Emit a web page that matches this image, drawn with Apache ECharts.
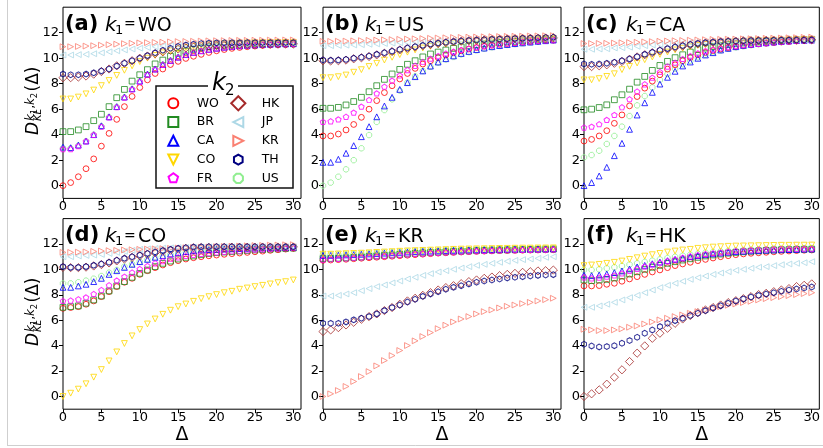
<!DOCTYPE html>
<html><head><meta charset="utf-8">
<script src="https://cdn.jsdelivr.net/npm/echarts@6/dist/echarts.min.js"></script>
<style>html,body{margin:0;padding:0;background:#fff}#c{width:823px;height:448px}</style>
</head><body><div id="c"></div>
<script>
// ---------------- data ----------------
const DELTA = [0,1,2,3,4,5,6,7,8,9,10,11,12,13,14,15,16,17,18,19,20,21,22,23,24,25,26,27,28,29,30];
const K2 = ['WO','BR','CA','CO','FR','HK','JP','KR','TH','US'];
const PANEL_LETTERS = ['(a)','(b)','(c)','(d)','(e)','(f)'];
const PANEL_K1 = ['WO','US','CA','CO','KR','HK'];
const X_TICKS = [0,5,10,15,20,25,30];
const Y_TICKS = [0,2,4,6,8,10,12];

// (a) k1 = WO
const a_WO = [0.00,0.24,0.70,1.33,2.10,3.10,4.10,5.20,6.20,7.00,7.70,8.30,8.80,9.15,9.50,9.75,9.98,10.15,10.30,10.45,10.58,10.68,10.77,10.84,10.90,10.95,11.00,11.03,11.06,11.08,11.10];
const a_BR = [4.24,4.24,4.37,4.63,5.10,5.60,6.20,6.90,7.55,8.20,8.70,9.10,9.55,9.85,10.15,10.38,10.55,10.70,10.82,10.90,10.97,11.02,11.06,11.09,11.11,11.13,11.14,11.15,11.16,11.16,11.17];
const a_CA = [3.02,2.98,3.18,3.50,4.00,4.70,5.40,6.20,6.95,7.60,8.20,8.75,9.15,9.50,9.82,10.08,10.28,10.45,10.58,10.69,10.78,10.86,10.92,10.97,11.01,11.04,11.07,11.09,11.11,11.12,11.13];
const a_CO = [6.80,6.80,6.95,7.20,7.50,7.85,8.25,8.65,9.05,9.40,9.73,10.00,10.22,10.42,10.58,10.72,10.83,10.92,10.99,11.05,11.10,11.13,11.16,11.18,11.20,11.21,11.22,11.23,11.24,11.24,11.25];
const a_FR = [2.87,2.87,3.10,3.48,3.98,4.62,5.35,6.15,6.90,7.55,8.15,8.70,9.12,9.48,9.80,10.06,10.27,10.44,10.57,10.68,10.77,10.85,10.91,10.96,11.00,11.04,11.06,11.08,11.10,11.11,11.12];
const a_HK = [8.47,8.47,8.52,8.60,8.75,8.95,9.15,9.40,9.60,9.80,10.00,10.17,10.35,10.50,10.62,10.72,10.80,10.87,10.92,10.96,11.00,11.02,11.04,11.06,11.07,11.08,11.09,11.10,11.10,11.11,11.11];
const a_JP = [10.25,10.25,10.28,10.30,10.35,10.42,10.50,10.58,10.65,10.72,10.78,10.84,10.90,10.95,11.00,11.04,11.07,11.10,11.12,11.14,11.15,11.16,11.17,11.18,11.18,11.19,11.19,11.20,11.20,11.20,11.20];
const a_KR = [10.90,10.90,10.92,10.95,10.98,11.02,11.06,11.10,11.14,11.17,11.20,11.22,11.24,11.26,11.28,11.30,11.31,11.33,11.34,11.36,11.37,11.38,11.39,11.40,11.40,11.41,11.41,11.42,11.42,11.43,11.43];
const a_TH = [8.75,8.70,8.70,8.75,8.85,9.00,9.15,9.38,9.60,9.80,10.00,10.20,10.42,10.62,10.78,10.92,11.03,11.10,11.15,11.18,11.20,11.21,11.22,11.22,11.23,11.23,11.23,11.23,11.23,11.23,11.23];
const a_US = [2.95,2.93,3.14,3.49,3.99,4.66,5.38,6.18,6.93,7.58,8.18,8.72,9.14,9.49,9.81,10.07,10.28,10.45,10.58,10.69,10.78,10.86,10.92,10.97,11.01,11.04,11.07,11.09,11.11,11.12,11.13];

// (b) k1 = US
const b_WO = [3.90,3.90,4.05,4.37,4.80,5.36,6.00,6.67,7.30,7.84,8.37,8.80,9.20,9.54,9.80,10.04,10.25,10.43,10.58,10.72,10.84,10.94,11.02,11.09,11.15,11.20,11.25,11.30,11.34,11.38,11.42];
const b_BR = [6.07,6.07,6.14,6.33,6.60,6.93,7.37,7.84,8.34,8.76,9.12,9.52,9.80,10.10,10.33,10.48,10.64,10.77,10.88,10.97,11.05,11.12,11.18,11.23,11.28,11.32,11.36,11.40,11.43,11.46,11.48];
const b_CA = [1.83,1.83,2.07,2.54,3.14,3.84,4.63,5.40,6.25,6.93,7.55,8.08,8.55,9.00,9.38,9.70,9.96,10.18,10.37,10.53,10.67,10.79,10.90,10.99,11.07,11.14,11.20,11.26,11.32,11.37,11.42];
const b_CO = [8.47,8.47,8.55,8.68,8.90,9.10,9.35,9.60,9.85,10.07,10.28,10.47,10.65,10.80,10.93,11.05,11.13,11.20,11.27,11.32,11.36,11.40,11.43,11.45,11.47,11.49,11.50,11.51,11.52,11.53,11.53];
const b_FR = [5.00,5.05,5.20,5.40,5.73,6.20,6.72,7.24,7.76,8.24,8.65,9.07,9.40,9.70,9.96,10.17,10.36,10.52,10.65,10.76,10.86,10.95,11.03,11.10,11.16,11.21,11.26,11.31,11.35,11.39,11.42];
const b_HK = [9.80,9.78,9.80,9.85,9.95,10.03,10.13,10.26,10.39,10.52,10.65,10.77,10.88,10.98,11.07,11.15,11.22,11.28,11.33,11.37,11.40,11.43,11.46,11.48,11.50,11.52,11.54,11.55,11.57,11.58,11.60];
const b_JP = [10.98,10.98,11.00,11.02,11.04,11.06,11.09,11.12,11.15,11.18,11.21,11.24,11.27,11.30,11.33,11.35,11.37,11.39,11.41,11.43,11.44,11.45,11.46,11.47,11.48,11.49,11.50,11.51,11.52,11.53,11.54];
const b_KR = [11.32,11.32,11.33,11.34,11.36,11.38,11.40,11.42,11.44,11.46,11.48,11.50,11.52,11.54,11.56,11.58,11.60,11.62,11.63,11.65,11.66,11.68,11.69,11.70,11.71,11.72,11.73,11.74,11.75,11.76,11.77];
const b_TH = [9.86,9.83,9.85,9.90,10.00,10.07,10.17,10.30,10.43,10.55,10.68,10.80,10.90,11.00,11.10,11.18,11.25,11.30,11.35,11.39,11.42,11.45,11.48,11.50,11.52,11.54,11.56,11.58,11.60,11.62,11.64];
const b_US = [0.00,0.24,0.70,1.28,2.00,2.93,3.97,5.00,5.93,6.77,7.45,8.08,8.58,9.00,9.33,9.65,9.90,10.10,10.30,10.47,10.62,10.75,10.86,10.96,11.04,11.11,11.18,11.25,11.31,11.37,11.42];

// (c) k1 = CA
const c_WO = [3.50,3.63,3.90,4.31,4.89,5.55,6.26,6.99,7.65,8.20,8.70,9.14,9.48,9.80,10.06,10.27,10.45,10.60,10.72,10.83,10.92,11.00,11.07,11.13,11.18,11.23,11.27,11.31,11.35,11.39,11.42];
const c_BR = [5.95,6.00,6.13,6.34,6.74,7.13,7.57,8.12,8.57,9.04,9.43,9.75,10.04,10.27,10.48,10.67,10.80,10.92,11.00,11.07,11.13,11.19,11.24,11.28,11.32,11.35,11.38,11.41,11.44,11.46,11.48];
const c_CA = [0.00,0.24,0.76,1.44,2.35,3.32,4.42,5.54,6.50,7.32,7.97,8.50,8.97,9.39,9.70,9.99,10.25,10.43,10.64,10.77,10.90,11.00,11.08,11.15,11.21,11.27,11.31,11.35,11.38,11.40,11.42];
const c_CO = [8.30,8.30,8.40,8.57,8.78,9.10,9.36,9.62,9.88,10.09,10.30,10.48,10.65,10.78,10.90,11.00,11.08,11.15,11.21,11.26,11.30,11.33,11.36,11.38,11.40,11.41,11.42,11.43,11.44,11.45,11.45];
const c_FR = [4.56,4.63,4.82,5.16,5.55,6.15,6.78,7.38,7.95,8.47,8.92,9.34,9.65,9.94,10.17,10.38,10.56,10.68,10.78,10.87,10.95,11.02,11.08,11.13,11.18,11.23,11.27,11.31,11.35,11.39,11.42];
const c_HK = [9.34,9.34,9.40,9.48,9.60,9.74,9.92,10.10,10.27,10.43,10.58,10.72,10.85,10.95,11.05,11.13,11.19,11.24,11.28,11.31,11.34,11.36,11.38,11.39,11.40,11.41,11.42,11.43,11.43,11.44,11.44];
const c_JP = [10.70,10.70,10.72,10.74,10.80,10.82,10.86,10.93,10.98,11.04,11.08,11.12,11.16,11.20,11.23,11.26,11.28,11.30,11.32,11.34,11.36,11.37,11.38,11.39,11.40,11.41,11.42,11.43,11.44,11.44,11.45];
const c_KR = [11.15,11.15,11.16,11.17,11.19,11.21,11.23,11.25,11.28,11.30,11.33,11.35,11.37,11.39,11.41,11.43,11.45,11.47,11.48,11.49,11.50,11.52,11.53,11.54,11.56,11.57,11.58,11.60,11.61,11.63,11.65];
const c_TH = [9.55,9.52,9.55,9.60,9.68,9.80,9.94,10.12,10.30,10.46,10.62,10.75,10.88,10.98,11.08,11.16,11.22,11.26,11.30,11.33,11.35,11.37,11.38,11.39,11.40,11.41,11.42,11.42,11.43,11.43,11.44];
const c_US = [2.22,2.40,2.74,3.27,3.90,4.63,5.46,6.30,7.03,7.71,8.29,8.76,9.18,9.52,9.80,10.07,10.28,10.46,10.62,10.75,10.85,10.94,11.02,11.09,11.16,11.22,11.27,11.31,11.35,11.39,11.42];

// (d) k1 = CO
const d_WO = [6.94,7.00,7.07,7.26,7.52,7.86,8.25,8.65,8.99,9.30,9.61,9.90,10.14,10.35,10.53,10.69,10.82,10.92,11.00,11.07,11.13,11.19,11.24,11.29,11.34,11.39,11.44,11.50,11.55,11.60,11.65];
const d_BR = [7.02,7.07,7.13,7.34,7.60,7.91,8.31,8.70,9.04,9.38,9.69,9.95,10.22,10.48,10.66,10.82,10.95,11.06,11.16,11.25,11.32,11.37,11.41,11.45,11.49,11.53,11.56,11.59,11.62,11.65,11.68];
const d_CA = [8.59,8.59,8.70,8.83,9.04,9.30,9.61,9.90,10.16,10.40,10.61,10.79,10.95,11.08,11.21,11.32,11.40,11.47,11.53,11.56,11.58,11.60,11.62,11.64,11.66,11.68,11.69,11.70,11.72,11.73,11.74];
const d_CO = [0.00,0.26,0.58,1.00,1.52,2.12,2.80,3.51,4.17,4.77,5.27,5.71,6.10,6.47,6.79,7.07,7.28,7.49,7.70,7.86,8.02,8.17,8.28,8.44,8.54,8.65,8.75,8.86,8.96,9.04,9.17];
const d_FR = [7.52,7.55,7.65,7.80,8.07,8.38,8.75,9.12,9.43,9.75,10.03,10.27,10.48,10.66,10.82,10.95,11.06,11.15,11.22,11.29,11.34,11.39,11.43,11.47,11.51,11.55,11.58,11.61,11.64,11.67,11.70];
const d_HK = [10.16,10.14,10.14,10.18,10.27,10.38,10.51,10.67,10.82,10.95,11.08,11.20,11.31,11.42,11.52,11.60,11.66,11.70,11.72,11.73,11.74,11.74,11.75,11.75,11.75,11.75,11.76,11.76,11.76,11.76,11.76];
const d_JP = [11.00,11.00,11.06,11.10,11.13,11.18,11.26,11.34,11.42,11.50,11.58,11.62,11.65,11.68,11.70,11.72,11.74,11.75,11.76,11.77,11.77,11.78,11.78,11.78,11.79,11.79,11.79,11.79,11.79,11.79,11.79];
const d_KR = [11.34,11.34,11.36,11.38,11.42,11.45,11.48,11.50,11.53,11.55,11.58,11.60,11.62,11.64,11.66,11.69,11.71,11.73,11.75,11.77,11.79,11.81,11.83,11.84,11.86,11.88,11.89,11.91,11.92,11.94,11.95];
const d_TH = [10.22,10.16,10.16,10.22,10.32,10.43,10.56,10.72,10.87,11.00,11.13,11.26,11.37,11.48,11.58,11.66,11.71,11.76,11.78,11.79,11.79,11.79,11.79,11.79,11.79,11.79,11.79,11.79,11.79,11.79,11.79];
const d_US = [8.90,8.90,8.99,9.12,9.27,9.48,9.75,9.96,10.22,10.43,10.61,10.79,10.95,11.08,11.20,11.30,11.38,11.45,11.51,11.55,11.58,11.60,11.62,11.64,11.66,11.68,11.69,11.70,11.72,11.73,11.74];

// (e) k1 = KR
const e_WO = [10.72,10.74,10.77,10.80,10.84,10.88,10.92,10.96,11.00,11.04,11.08,11.12,11.16,11.20,11.24,11.28,11.31,11.34,11.37,11.40,11.42,11.44,11.46,11.48,11.49,11.50,11.51,11.52,11.53,11.54,11.55];
const e_BR = [10.85,10.86,10.88,10.91,10.94,10.98,11.02,11.06,11.10,11.14,11.18,11.22,11.26,11.30,11.33,11.36,11.39,11.42,11.44,11.46,11.48,11.50,11.52,11.53,11.54,11.55,11.56,11.57,11.58,11.59,11.60];
const e_CA = [11.10,11.10,11.12,11.14,11.16,11.19,11.22,11.25,11.28,11.31,11.34,11.37,11.40,11.42,11.44,11.46,11.48,11.50,11.52,11.53,11.54,11.55,11.56,11.57,11.58,11.59,11.59,11.60,11.61,11.61,11.62];
const e_CO = [11.20,11.20,11.22,11.24,11.26,11.28,11.31,11.34,11.37,11.40,11.43,11.46,11.48,11.50,11.52,11.54,11.56,11.58,11.60,11.61,11.62,11.63,11.64,11.65,11.66,11.67,11.68,11.68,11.69,11.69,11.70];
const e_FR = [10.78,10.80,10.83,10.86,10.90,10.94,10.98,11.02,11.06,11.10,11.14,11.18,11.22,11.25,11.28,11.31,11.34,11.37,11.40,11.42,11.44,11.46,11.48,11.50,11.51,11.52,11.53,11.54,11.55,11.56,11.58];
const e_HK = [5.11,5.24,5.42,5.63,5.84,6.08,6.29,6.50,6.76,7.00,7.26,7.52,7.73,7.96,8.17,8.38,8.57,8.72,8.88,9.04,9.17,9.30,9.40,9.51,9.61,9.69,9.77,9.82,9.88,9.90,9.95];
const e_JP = [7.91,7.91,7.96,8.07,8.17,8.33,8.49,8.65,8.78,8.94,9.09,9.25,9.38,9.53,9.67,9.80,9.90,10.01,10.11,10.22,10.32,10.40,10.48,10.56,10.64,10.71,10.77,10.82,10.87,10.95,11.00];
const e_KR = [0.00,0.21,0.47,0.79,1.18,1.57,1.96,2.41,2.83,3.22,3.62,4.01,4.38,4.72,5.03,5.34,5.61,5.87,6.10,6.29,6.50,6.68,6.81,6.97,7.10,7.20,7.31,7.41,7.52,7.62,7.73];
const e_TH = [5.76,5.76,5.76,5.87,6.03,6.16,6.29,6.50,6.76,7.00,7.20,7.44,7.65,7.88,8.07,8.25,8.44,8.59,8.72,8.86,8.99,9.09,9.17,9.25,9.33,9.38,9.43,9.48,9.53,9.56,9.59];
const e_US = [11.15,11.15,11.17,11.19,11.21,11.24,11.27,11.30,11.33,11.36,11.39,11.42,11.44,11.46,11.48,11.50,11.52,11.54,11.55,11.56,11.57,11.58,11.59,11.60,11.61,11.62,11.62,11.63,11.64,11.64,11.65];

// (f) k1 = HK
const f_WO = [8.70,8.70,8.73,8.83,8.91,9.07,9.25,9.43,9.61,9.80,9.96,10.14,10.30,10.43,10.56,10.69,10.79,10.90,11.00,11.08,11.16,11.22,11.27,11.31,11.35,11.39,11.42,11.45,11.48,11.51,11.53];
const f_BR = [9.17,9.12,9.17,9.22,9.33,9.48,9.64,9.82,10.01,10.17,10.32,10.48,10.61,10.74,10.84,10.95,11.06,11.14,11.21,11.28,11.34,11.39,11.43,11.46,11.50,11.53,11.55,11.56,11.58,11.59,11.60];
const f_CA = [9.56,9.51,9.56,9.64,9.75,9.88,10.04,10.20,10.32,10.45,10.58,10.69,10.79,10.90,11.00,11.08,11.16,11.23,11.29,11.35,11.40,11.43,11.46,11.49,11.51,11.53,11.55,11.56,11.57,11.59,11.60];
const f_CO = [10.30,10.35,10.40,10.48,10.56,10.66,10.79,10.92,11.05,11.16,11.26,11.37,11.45,11.53,11.58,11.66,11.71,11.76,11.79,11.82,11.84,11.85,11.86,11.87,11.88,11.89,11.90,11.90,11.91,11.91,11.92];
const f_FR = [9.38,9.30,9.35,9.43,9.53,9.69,9.88,10.04,10.22,10.38,10.53,10.66,10.79,10.92,11.03,11.13,11.21,11.28,11.34,11.40,11.45,11.49,11.52,11.55,11.57,11.59,11.60,11.61,11.62,11.63,11.63];
const f_HK = [0.00,0.21,0.52,0.97,1.52,2.10,2.75,3.41,3.98,4.58,4.98,5.37,5.76,6.10,6.37,6.60,6.81,7.00,7.20,7.39,7.54,7.70,7.86,8.02,8.12,8.25,8.38,8.49,8.65,8.75,8.86];
const f_JP = [7.02,7.02,7.13,7.26,7.41,7.60,7.78,7.96,8.17,8.38,8.57,8.75,8.91,9.07,9.22,9.35,9.48,9.61,9.72,9.82,9.93,10.01,10.09,10.17,10.22,10.30,10.37,10.43,10.48,10.53,10.61];
const f_KR = [5.29,5.24,5.19,5.19,5.24,5.32,5.45,5.55,5.71,5.87,6.03,6.16,6.29,6.42,6.55,6.68,6.81,6.94,7.07,7.18,7.28,7.39,7.49,7.60,7.70,7.78,7.86,7.94,8.02,8.10,8.17];
const f_TH = [4.11,3.98,3.90,3.93,4.00,4.19,4.40,4.66,4.98,5.24,5.50,5.76,5.97,6.16,6.37,6.55,6.76,6.97,7.15,7.34,7.52,7.68,7.83,7.96,8.07,8.17,8.28,8.38,8.46,8.54,8.62];
const f_US = [9.96,9.96,10.01,10.09,10.17,10.27,10.38,10.48,10.59,10.69,10.79,10.90,11.00,11.08,11.16,11.24,11.32,11.37,11.42,11.46,11.50,11.53,11.56,11.58,11.60,11.63,11.64,11.65,11.66,11.67,11.68];

// table built from the arrays
const PANEL_DATA = [
  {WO:a_WO,BR:a_BR,CA:a_CA,CO:a_CO,FR:a_FR,HK:a_HK,JP:a_JP,KR:a_KR,TH:a_TH,US:a_US},
  {WO:b_WO,BR:b_BR,CA:b_CA,CO:b_CO,FR:b_FR,HK:b_HK,JP:b_JP,KR:b_KR,TH:b_TH,US:b_US},
  {WO:c_WO,BR:c_BR,CA:c_CA,CO:c_CO,FR:c_FR,HK:c_HK,JP:c_JP,KR:c_KR,TH:c_TH,US:c_US},
  {WO:d_WO,BR:d_BR,CA:d_CA,CO:d_CO,FR:d_FR,HK:d_HK,JP:d_JP,KR:d_KR,TH:d_TH,US:d_US},
  {WO:e_WO,BR:e_BR,CA:e_CA,CO:e_CO,FR:e_FR,HK:e_HK,JP:e_JP,KR:e_KR,TH:e_TH,US:e_US},
  {WO:f_WO,BR:f_BR,CA:f_CA,CO:f_CO,FR:f_FR,HK:f_HK,JP:f_JP,KR:f_KR,TH:f_TH,US:f_US}
];

// ---------------- styles ----------------
const COLORS = {WO:'#ff0000',BR:'#228b22',CA:'#0000ff',CO:'#ffd700',FR:'#ff00ff',HK:'#a52a2a',JP:'#add8e6',KR:'#fa8072',TH:'#000080',US:'#90ee90'};
// marker outlines in units where the circle radius is 50 (centred on 0,0)
function regPts(n, r, startDeg){
  const pts=[];
  for(let k=0;k<n;k++){ const a=(startDeg+360*k/n)*Math.PI/180; pts.push([r*Math.cos(a), -r*Math.sin(a)]); }
  return pts;
}
const SHAPES = {
  WO: 'circle',
  BR: [[-50,-50],[50,-50],[50,50],[-50,50]],
  CA: [[0,-50],[50,50],[-50,50]],
  CO: [[-50,-50],[50,-50],[0,50]],
  FR: regPts(5,50,90),
  HK: [[0,-70.7],[70.7,0],[0,70.7],[-70.7,0]],
  JP: [[-50,0],[50,-50],[50,50]],
  KR: [[-50,-50],[50,0],[-50,50]],
  TH: regPts(6,50,90),
  US: regPts(8,50,22.5)
};
const MARK_SCALE = 0.058;   // px per shape unit in the plots (circle diameter ≈ 5.8 px)
function shapeBox(n){
  const s = SHAPES[n];
  if (s === 'circle') return [100,100];
  const xs = s.map(p=>p[0]), ys = s.map(p=>p[1]);
  return [Math.max(...xs)-Math.min(...xs), Math.max(...ys)-Math.min(...ys)];
}
function symbolPath(n){
  const s = SHAPES[n];
  if (s === 'circle') return 'circle';
  return 'path://M' + s.map(p=>(100+p[0]).toFixed(2)+','+(100+p[1]).toFixed(2)).join(' L') + ' Z';
}
const DRAW_ORDER = ['US','WO','BR','CA','CO','FR','HK','JP','KR','TH'];
const FONT = '"DejaVu Sans", sans-serif';
const LEFTS = [63, 323, 584];
const TOPS = [7.2, 218.6];
const GW = 238, GH = [191.2, 190.6];

const chart = echarts.init(document.getElementById('c'), null, {renderer:'canvas'});
const grids=[], xAxes=[], yAxes=[], series=[], graphics=[];
for (let i=0;i<6;i++){
  const col=i%3, row=Math.floor(i/3);
  const L=LEFTS[col], T=TOPS[row];
  grids.push({left:L, top:T, width:GW, height:GH[row], show:true, borderColor:'#000', borderWidth:1, backgroundColor:'transparent'});
  xAxes.push({type:'value', gridIndex:i, min:0, max:31,
    name: row===1 ? 'Δ' : '', nameLocation:'middle', nameGap:7,
    nameTextStyle:{fontSize:19, fontFamily:FONT, color:'#000', verticalAlign:'top'},
    axisLine:{show:false, onZero:false},
    axisTick:{show:true, inside:false, length:4, customValues:X_TICKS, lineStyle:{color:'#000', width:1}},
    axisLabel:{show:true, customValues:X_TICKS, margin:2, fontSize:13, fontFamily:FONT, color:'#000'},
    splitLine:{show:false}});
  yAxes.push({type:'value', gridIndex:i, min:-1, max:14,
    axisLine:{show:false, onZero:false},
    axisTick:{show:true, inside:false, length:4, customValues:Y_TICKS, lineStyle:{color:'#000', width:1}},
    axisLabel:{show:true, customValues:Y_TICKS, margin:4, fontSize:13, fontFamily:FONT, color:'#000'},
    splitLine:{show:false}});
  DRAW_ORDER.forEach(n=>{
    const vals = PANEL_DATA[i][n];
    const box = shapeBox(n);
    series.push({type:'scatter', name:n, xAxisIndex:i, yAxisIndex:i,
      data: DELTA.map((d,j)=>[d, vals[j]]),
      symbol: symbolPath(n), symbolSize: [box[0]*MARK_SCALE, box[1]*MARK_SCALE], symbolKeepAspect:false,
      itemStyle:{color:'rgba(0,0,0,0)', borderColor:COLORS[n], borderWidth:1},
      emphasis:{disabled:true}, silent:true, animation:false});
  });
  // panel title
  graphics.push({type:'text', x:L+2, y:T+17, z:100, style:{text:PANEL_LETTERS[i], font:'bold 21px '+FONT, fill:'#000', align:'left', verticalAlign:'middle'}});
  graphics.push({type:'text', x:L+42, y:T+18.5, z:100, style:{text:'k', font:'italic 20px '+FONT, fill:'#000', align:'left', verticalAlign:'middle'}});
  graphics.push({type:'text', x:L+52, y:T+23.5, z:100, style:{text:'1', font:'13px '+FONT, fill:'#000', align:'left', verticalAlign:'middle'}});
  graphics.push({type:'text', x:L+61, y:T+17.5, z:100, style:{text:'=', font:'14px '+FONT, fill:'#000', align:'left', verticalAlign:'middle'}});
  graphics.push({type:'text', x:L+75, y:T+18.5, z:100, style:{text:PANEL_K1[i], font:'19px '+FONT, fill:'#000', align:'left', verticalAlign:'middle'}});
}
// y axis labels (rotated math text)
[135, 346].forEach(by=>{
  graphics.push({type:'group', x:33.5, y:by, rotation:Math.PI/2, z:100, children:[
    {type:'text', x:0, y:0, style:{text:'D', font:'italic 17px '+FONT, fill:'#000', verticalAlign:'middle'}},
    {type:'text', x:14, y:-3, style:{text:'k', font:'italic 12px '+FONT, fill:'#000', verticalAlign:'middle'}},
    {type:'text', x:20.8, y:1, style:{text:'1', font:'8.5px '+FONT, fill:'#000', verticalAlign:'middle'}},
    {type:'text', x:26.2, y:-3, style:{text:',', font:'12px '+FONT, fill:'#000', verticalAlign:'middle'}},
    {type:'text', x:30, y:-3, style:{text:'k', font:'italic 12px '+FONT, fill:'#000', verticalAlign:'middle'}},
    {type:'text', x:36.8, y:1, style:{text:'2', font:'8.5px '+FONT, fill:'#000', verticalAlign:'middle'}},
    {type:'text', x:14, y:5, style:{text:'KL', font:'italic 10px '+FONT, fill:'#000', verticalAlign:'middle'}},
    {type:'text', x:43.5, y:0, style:{text:'(Δ)', font:'17px '+FONT, fill:'#000', verticalAlign:'middle'}}
  ]});
});
// legend (drawn as graphics): frame, title, entries
graphics.push({type:'rect', shape:{x:156, y:86, width:137, height:102}, z:5, style:{fill:'#fff', stroke:'#111', lineWidth:1.5}});
graphics.push({type:'rect', shape:{x:208, y:82, width:30, height:8}, z:6, style:{fill:'#fff', stroke:null}});
graphics.push({type:'text', x:212, y:84, z:7, style:{text:'k', font:'italic 24px '+FONT, fill:'#000', verticalAlign:'middle'}});
graphics.push({type:'text', x:225, y:91, z:7, style:{text:'2', font:'15px '+FONT, fill:'#000', verticalAlign:'middle'}});
const LEG_COL_X = [173.3, 238.3], LEG_ROW_Y0 = 103.3, LEG_ROW_DY = 18.75, LEG_SCALE = 0.1;
K2.forEach((n, idx)=>{
  const cx = LEG_COL_X[Math.floor(idx/5)], cy = LEG_ROW_Y0 + (idx%5)*LEG_ROW_DY;
  const st = {fill:'none', stroke:COLORS[n], lineWidth:2};
  const s = SHAPES[n];
  if (s === 'circle') graphics.push({type:'circle', z:8, shape:{cx:cx, cy:cy, r:50*LEG_SCALE}, style:st});
  else graphics.push({type:'polygon', z:8, shape:{points:s.map(p=>[cx+p[0]*LEG_SCALE, cy+p[1]*LEG_SCALE])}, style:st});
  graphics.push({type:'text', z:8, x:cx+23.4, y:cy, style:{text:n, font:'12.5px '+FONT, fill:'#000', verticalAlign:'middle'}});
});
// outer figure border
graphics.push({type:'line', shape:{x1:7.5, y1:0, x2:7.5, y2:446}, z:1, style:{stroke:'#cfcfcf', lineWidth:1}});
graphics.push({type:'line', shape:{x1:7.5, y1:445.5, x2:823, y2:445.5}, z:1, style:{stroke:'#cfcfcf', lineWidth:1}});

chart.setOption({
  animation:false,
  backgroundColor:'#fff',
  grid:grids, xAxis:xAxes, yAxis:yAxes, series:series,
  graphic:{elements:graphics}
});
</script></body></html>
